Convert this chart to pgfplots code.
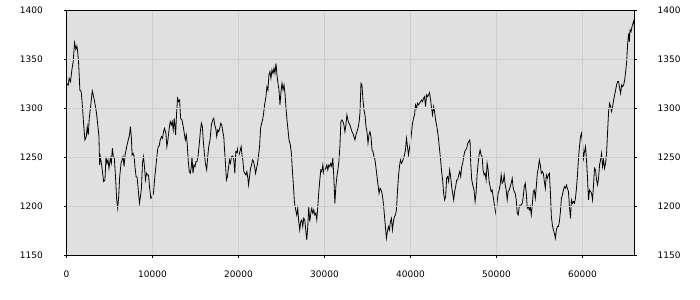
\documentclass[border=0pt]{standalone}
\usepackage{pgfplots}
\pgfplotsset{compat=1.18}
\usepackage{fontspec}
\setmainfont{DejaVu Sans}
\definecolor{bg}{HTML}{E0E0E0}
\definecolor{gridc}{HTML}{CDCDCD}
\begin{document}
\begin{tikzpicture}
\useasboundingbox (0,0) rectangle (700bp,300bp);
\pgfplotsset{
  common/.style={
    at={(66.5bp,44.7bp)}, anchor=south west,
    scale only axis, width=568bp, height=245bp,
    xmin=0, xmax=66050, ymin=1150, ymax=1400,
    ytick={1150,1200,...,1400},
    scaled x ticks=false, scaled y ticks=false,
    /pgf/number format/assume math mode=true,
    /pgf/number format/set thousands separator={},
    ticklabel style={font=\fontsize{9}{10}\selectfont, inner sep=0pt},
    tick align=outside, major tick length=2.5bp,
    axis line style={black, line width=0.8bp},
    tick style={black, line width=0.8bp},
  }
}
\begin{axis}[common,
  axis background/.style={fill=bg},
  xtick={0,10000,...,60000},
  xtick pos=bottom, ytick pos=both, yticklabel pos=left,
  grid=major, grid style={gridc, line width=0.8bp},
  xticklabel style={anchor=center, yshift=-16.5bp},
  yticklabel style={anchor=east, xshift=-21bp},
  axis on top]
\addplot[black, line width=0.8bp] coordinates {
(0,1325.5)(195,1323.5)(311,1330.6)(467,1327.2)(623,1339.1)(778,1347.6)(934,1367.0)(1089,1360.2)(1206,1363.6)(1284,1359.5)(1401,1347.6)(1556,1318.7)(1712,1317.0)(1829,1305.1)(1984,1284.7)(2140,1267.7)(2296,1271.1)(2412,1281.3)(2529,1272.8)(2646,1289.8)(2802,1301.7)(2996,1317.7)(3152,1311.9)(3307,1305.1)(3463,1296.6)(3619,1284.7)(3774,1271.1)(3852,1242.2)(3930,1250.7)(4086,1242.2)(4202,1233.7)(4319,1225.2)(4475,1226.9)(4591,1250.7)(4708,1243.9)(4825,1247.3)(4942,1238.8)(5097,1249.0)(5214,1243.9)(5331,1259.2)(5447,1250.7)(5564,1249.0)(5720,1226.9)(5837,1206.5)(5953,1198.0)(6070,1209.9)(6187,1230.3)(6342,1243.9)(6459,1247.3)(6576,1250.7)(6693,1240.5)(6809,1252.4)(6926,1257.5)(7082,1264.3)(7237,1269.4)(7354,1274.5)(7432,1281.3)(7549,1269.4)(7626,1252.4)(7743,1254.1)(7860,1250.7)(7977,1238.8)(8093,1230.3)(8210,1229.6)(8327,1218.4)(8482,1203.1)(8599,1209.9)(8716,1218.4)(8833,1243.9)(8949,1250.7)(9066,1240.5)(9183,1226.9)(9300,1233.7)(9416,1232.0)(9533,1232.0)(9650,1220.1)(9805,1208.2)(9961,1209.9)(10117,1213.3)(10272,1230.3)(10428,1243.9)(10545,1254.1)(10661,1260.9)(10778,1261.6)(10895,1267.7)(11050,1271.1)(11167,1269.4)(11284,1276.2)(11401,1279.6)(11556,1274.5)(11673,1260.9)(11790,1267.7)(11945,1279.6)(12062,1286.4)(12179,1283.0)(12296,1286.4)(12412,1277.9)(12529,1289.8)(12685,1272.8)(12801,1294.9)(12918,1310.2)(13035,1306.8)(13152,1308.5)(13268,1289.8)(13424,1288.1)(13580,1281.3)(13696,1274.5)(13813,1267.7)(13930,1272.8)(14047,1262.6)(14163,1245.6)(14280,1235.4)(14397,1233.7)(14513,1240.5)(14591,1250.7)(14708,1233.7)(14825,1242.2)(14941,1240.5)(15058,1245.6)(15175,1245.6)(15292,1250.7)(15447,1264.3)(15564,1276.2)(15681,1284.7)(15797,1281.3)(15914,1266.0)(16031,1254.1)(16148,1243.9)(16303,1237.1)(16420,1250.7)(16537,1260.9)(16692,1267.7)(16848,1283.0)(17003,1288.1)(17120,1289.8)(17237,1283.0)(17354,1279.6)(17471,1271.1)(17587,1277.9)(17704,1276.2)(17821,1279.6)(17938,1284.7)(18054,1283.0)(18171,1276.2)(18288,1271.1)(18366,1259.2)(18482,1243.9)(18599,1226.9)(18716,1230.3)(18832,1238.8)(18949,1247.3)(19066,1243.9)(19183,1250.7)(19338,1251.4)(19455,1247.3)(19572,1233.7)(19688,1255.8)(19805,1254.8)(19922,1259.2)
(20000,1250.7)(20117,1254.1)(20311,1260.9)(20428,1250.7)(20506,1247.3)(20622,1235.4)(20739,1233.7)(20856,1232.0)(20973,1235.4)(21089,1228.6)(21167,1221.8)(21284,1230.3)(21400,1238.8)(21517,1242.2)(21634,1247.3)(21751,1245.6)(21867,1240.5)(21984,1233.7)(22101,1238.8)(22218,1243.9)(22334,1252.4)(22451,1260.9)(22568,1279.6)(22685,1284.7)(22801,1288.1)(22918,1294.9)(23035,1303.4)(23190,1311.9)(23307,1322.1)(23424,1318.7)(23540,1334.0)(23657,1337.4)(23774,1330.6)(23891,1339.1)(24007,1335.7)(24124,1340.8)(24241,1335.7)(24358,1345.9)(24474,1334.0)(24591,1325.5)(24708,1318.7)(24825,1303.4)(24941,1317.0)(25058,1325.5)(25175,1318.7)(25292,1323.8)(25408,1315.3)(25525,1300.0)(25642,1288.1)(25759,1277.9)(25875,1267.7)(26031,1262.6)(26148,1254.1)(26264,1237.1)(26381,1221.8)(26498,1204.8)(26653,1196.3)(26770,1191.2)(26887,1198.0)(27004,1184.4)(27120,1175.9)(27237,1184.4)(27354,1186.1)(27471,1179.3)(27587,1187.8)(27704,1186.1)(27821,1175.9)(27938,1165.7)(28054,1179.3)(28171,1199.7)(28288,1184.4)(28405,1192.9)(28521,1198.0)(28638,1192.9)(28755,1196.3)(28872,1191.2)(28988,1192.9)(29105,1186.1)(29222,1199.7)(29339,1215.0)(29455,1226.9)(29572,1237.1)(29689,1235.4)(29805,1242.2)(29922,1233.7)(30039,1237.1)(30156,1238.8)(30272,1242.2)(30389,1237.1)(30506,1242.2)(30623,1240.5)(30739,1243.9)(30856,1240.5)(30973,1249.0)(31090,1228.6)(31206,1203.1)(31323,1220.1)(31440,1230.3)(31557,1237.1)(31673,1245.6)(31790,1260.9)(31907,1286.4)(32023,1288.1)(32140,1286.4)(32257,1283.0)(32374,1276.2)(32490,1283.0)(32607,1293.2)(32724,1288.1)(32841,1284.7)(32957,1283.0)(33074,1279.6)(33191,1276.2)(33308,1274.5)(33424,1271.1)(33541,1267.7)(33658,1272.8)(33775,1276.2)(33891,1279.6)(34008,1284.7)(34125,1294.9)(34242,1325.5)(34358,1323.8)(34475,1308.5)(34592,1298.3)(34709,1293.2)(34825,1281.3)(34942,1276.2)(35059,1264.3)(35175,1272.8)(35292,1276.2)(35409,1271.1)(35526,1257.5)(35642,1255.8)(35759,1250.7)(35876,1247.3)(35993,1238.8)(36109,1230.3)(36226,1221.8)(36343,1213.3)(36460,1218.4)(36576,1216.7)(36693,1213.3)(36849,1203.1)(36966,1191.2)(37082,1179.3)(37199,1167.4)(37316,1174.2)(37432,1179.3)(37549,1175.9)(37666,1184.4)(37783,1187.8)(37899,1175.9)(38016,1184.4)(38133,1189.5)(38250,1191.2)(38366,1196.3)(38483,1215.0)(38600,1230.3)(38716,1240.5)(38833,1247.3)(38950,1243.9)(39067,1245.6)(39183,1249.0)(39300,1252.4)(39417,1257.5)(39534,1269.4)(39650,1260.9)(39767,1252.4)(39884,1259.2)(40001,1266.0)(40117,1274.5)(40234,1284.7)(40351,1289.8)(40468,1293.2)(40584,1303.4)(40701,1300.0)(40818,1305.1)(40935,1303.4)(41051,1305.1)(41168,1306.8)(41285,1308.5)(41401,1306.8)(41518,1310.2)(41635,1311.9)(41752,1301.7)(41868,1313.6)(41985,1311.9)(42102,1313.6)(42219,1316.0)(42335,1308.5)(42452,1300.0)(42569,1293.2)(42686,1301.7)(42802,1296.6)(42919,1288.1)(43036,1283.0)(43153,1276.2)(43269,1267.7)(43386,1257.5)(43503,1247.3)(43620,1235.4)(43736,1226.9)(43853,1213.3)(43970,1206.5)(44087,1209.9)(44203,1228.6)(44320,1230.3)(44437,1225.2)(44553,1237.1)(44670,1230.3)(44787,1220.1)(44904,1213.3)(45020,1206.5)(45137,1215.0)(45254,1220.1)(45371,1226.9)(45487,1226.9)(45604,1232.0)(45721,1235.4)(45838,1230.3)(45954,1240.5)(46071,1243.9)(46188,1250.7)(46305,1255.8)(46421,1257.5)(46538,1259.2)(46655,1264.3)(46772,1265.9)(46888,1267.7)
(46926,1266.0)(47004,1243.9)(47121,1226.9)(47238,1221.8)(47393,1216.7)(47510,1204.8)(47627,1213.3)(47743,1232.0)(47860,1243.9)(47977,1252.4)(48094,1257.5)(48210,1252.4)(48327,1250.7)(48444,1237.1)(48561,1232.0)(48677,1233.7)(48794,1226.9)(48911,1243.9)(49028,1237.1)(49144,1225.2)(49261,1220.1)(49378,1215.0)(49494,1216.7)(49611,1209.9)(49728,1203.1)(49845,1196.3)(49961,1191.2)(50078,1204.8)(50195,1213.3)(50312,1216.7)(50428,1221.8)(50545,1232.0)(50662,1223.5)(50779,1225.2)(50895,1232.0)(51012,1221.8)(51129,1216.7)(51246,1206.5)(51362,1215.0)(51479,1216.7)(51596,1220.1)(51713,1223.5)(51829,1228.6)(51946,1218.4)(52063,1215.0)(52180,1213.3)(52296,1206.5)(52413,1192.9)(52530,1191.2)(52646,1199.7)(52763,1201.4)(52880,1201.4)(52997,1203.1)(53113,1209.9)(53230,1220.1)(53347,1223.5)(53464,1213.3)(53580,1198.0)(53697,1199.7)(53814,1196.3)(53931,1199.7)(54047,1191.2)(54164,1201.4)(54281,1215.0)(54398,1216.7)(54514,1208.2)(54631,1220.1)(54748,1233.7)(54865,1238.8)(54981,1247.3)(55098,1242.2)(55215,1233.7)(55332,1235.4)(55448,1233.7)(55565,1225.2)(55682,1218.4)(55799,1232.0)(55915,1228.6)(56032,1232.0)(56149,1233.7)(56265,1215.0)(56382,1189.5)(56499,1181.0)(56616,1175.9)(56732,1172.5)(56849,1167.4)(56966,1175.9)(57083,1179.3)(57199,1179.3)(57316,1184.4)(57433,1194.6)(57550,1208.2)(57666,1211.6)(57783,1216.7)(57900,1220.1)(58017,1218.4)(58133,1221.8)(58250,1218.4)(58367,1215.0)(58484,1199.7)(58600,1187.8)(58717,1206.5)(58834,1203.1)(58950,1204.8)(59067,1203.1)(59184,1208.2)(59301,1218.4)(59417,1232.0)(59534,1249.0)(59651,1260.9)(59768,1271.1)(59884,1274.5)(60001,1264.3)(60118,1249.0)(60235,1255.8)(60351,1260.9)(60468,1247.3)(60585,1228.6)(60702,1206.5)(60818,1216.7)(60935,1215.0)(61052,1213.3)(61169,1206.5)(61285,1221.8)(61402,1238.8)(61519,1237.1)(61635,1226.9)(61752,1221.8)(61869,1228.6)(61986,1242.2)(62102,1247.3)(62219,1254.1)(62336,1240.5)(62453,1247.3)(62569,1238.8)(62686,1243.9)(62803,1254.1)(62920,1276.2)(63036,1296.6)(63153,1305.1)(63270,1301.7)(63387,1296.6)(63503,1301.7)(63620,1308.5)(63737,1313.6)(63854,1318.7)(63970,1323.8)(64087,1327.2)(64204,1327.2)(64320,1320.4)(64437,1315.3)(64554,1323.8)(64671,1322.1)(64787,1323.8)(64904,1328.9)(65021,1337.4)(65138,1347.6)(65254,1366.3)(65371,1376.5)(65449,1368.0)(65527,1379.9)(65644,1378.2)(65760,1383.3)(65877,1386.7)(65994,1390.1)(66033,1379.9)
};
\end{axis}
\begin{axis}[common,
  xtick=\empty, ytick pos=right, yticklabel pos=right,
  ytick style={draw=none},
  yticklabel style={anchor=west, xshift=20.5bp}]
\end{axis}
\end{tikzpicture}
\end{document}
